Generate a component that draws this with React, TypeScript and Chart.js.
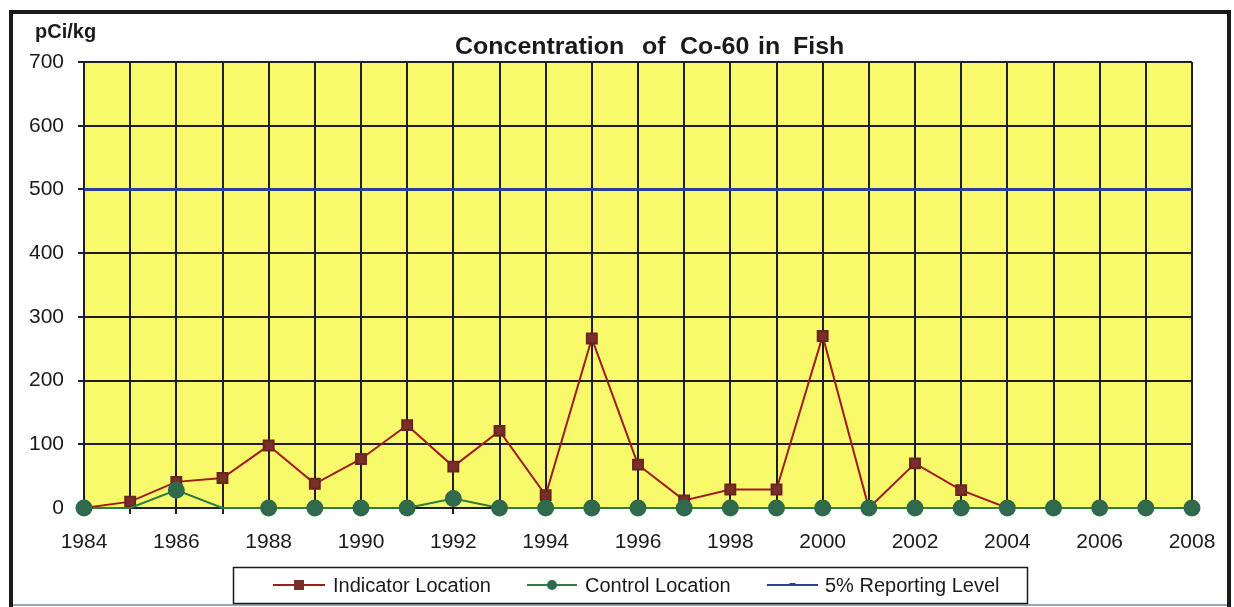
import React, { useEffect, useRef } from "react";
import { Chart, registerables } from "chart.js";

Chart.register(...registerables);

const years = [
  "1984", "1985", "1986", "1987", "1988", "1989", "1990", "1991", "1992", "1993",
  "1994", "1995", "1996", "1997", "1998", "1999", "2000", "2001", "2002", "2003",
  "2004", "2005", "2006", "2007", "2008",
];
const indicatorValues = [
  0, 10, 41, 47, 98, 38, 77, 130, 65, 121, 20, 266, 68, 12, 29, 29, 270, 0, 70, 28,
  0, 0, 0, null, null,
];
const controlValues = [
  0, 0, 28, 0, 0, 0, 0, 0, 15, 0, 0, 0, 0, 0, 0, 0, 0, 0, 0, 0, 0, 0, 0, 0, 0,
];
const controlMarkerShown = [
  1, 0, 1, 0, 1, 1, 1, 1, 1, 1, 1, 1, 1, 1, 1, 1, 1, 1, 1, 1, 1, 1, 1, 1, 1,
];
const reportingLevel = years.map(() => 500);
const yTicks = [0, 100, 200, 300, 400, 500, 600, 700];

const titleWords = ["Concentration", "of", "Co-60", "in", "Fish"];
const unitText = "pCi/kg";
const legendItems = ["Indicator Location", "Control Location", "5% Reporting Level"];

const RED = "#a01c1c";
const RED_MARK = "#7a2e2a";
const GREEN = "#2f7a45";
const GREEN_MARK = "#2f6a4c";
const BLUE = "#2a3f9a";
const GRID = "#1e1e2a";
const FONT = "'Liberation Sans', Arial, sans-serif";

const decorPlugin = {
  id: "decor",
  beforeDraw(chart: any) {
    const { ctx, chartArea } = chart;
    ctx.save();
    ctx.fillStyle = "#ffffff";
    ctx.fillRect(0, 0, chart.width, chart.height);
    ctx.fillStyle = "#f9f96c";
    ctx.fillRect(chartArea.left, chartArea.top, chartArea.right - chartArea.left, chartArea.bottom - chartArea.top);
    ctx.restore();
  },
  afterDraw(chart: any) {
    const { ctx } = chart;
    ctx.save();
    // outer frame
    ctx.strokeStyle = "#1a1a1a";
    ctx.lineWidth = 4;
    ctx.beginPath();
    ctx.moveTo(11, 607);
    ctx.lineTo(11, 12);
    ctx.lineTo(1229, 12);
    ctx.lineTo(1229, 607);
    ctx.stroke();
    ctx.strokeStyle = "#9aa6b4";
    ctx.lineWidth = 2;
    ctx.beginPath();
    ctx.moveTo(13, 605);
    ctx.lineTo(1227, 605);
    ctx.stroke();

    // unit label
    ctx.fillStyle = "#1a1a1a";
    ctx.font = `bold 20px ${FONT}`;
    ctx.textAlign = "left";
    ctx.textBaseline = "alphabetic";
    ctx.fillText(unitText, 35, 38);

    // title (word positions follow the reference's spacing)
    ctx.font = `bold 24px ${FONT}`;
    const wordX = [455, 642, 680, 758, 793];
    titleWords.forEach((w, i) => {
      ctx.save();
      ctx.translate(wordX[i], 54);
      ctx.scale(1.04, 1);
      ctx.fillText(w, 0, 0);
      ctx.restore();
    });

    // legend box
    ctx.strokeStyle = "#1a1a1a";
    ctx.lineWidth = 1.5;
    ctx.strokeRect(233.5, 567.5, 794, 36);
    const ly = 585;
    const samples = [
      { x: 273, w: 52, tx: 333, color: RED, mark: "square" },
      { x: 527, w: 50, tx: 585, color: GREEN, mark: "circle" },
      { x: 767, w: 51, tx: 825, color: BLUE, mark: "dash" },
    ];
    ctx.font = `20px ${FONT}`;
    ctx.textBaseline = "middle";
    samples.forEach((s, i) => {
      ctx.strokeStyle = s.color;
      ctx.lineWidth = 2;
      ctx.beginPath();
      ctx.moveTo(s.x, ly);
      ctx.lineTo(s.x + s.w, ly);
      ctx.stroke();
      const cx = s.x + s.w / 2;
      if (s.mark === "square") {
        ctx.fillStyle = RED_MARK;
        ctx.fillRect(cx - 5, ly - 5, 10, 10);
      } else if (s.mark === "circle") {
        ctx.fillStyle = GREEN_MARK;
        ctx.beginPath();
        ctx.arc(cx, ly, 5, 0, Math.PI * 2);
        ctx.fill();
      } else {
        ctx.fillStyle = BLUE;
        ctx.fillRect(cx - 3, ly - 2, 6, 3);
      }
      ctx.fillStyle = "#1a1a1a";
      ctx.fillText(legendItems[i], s.tx, ly + 1);
    });
    ctx.restore();
  },
};

export default function App() {
  const ref = useRef<HTMLCanvasElement | null>(null);
  useEffect(() => {
    if (!ref.current) return;
    const chart = new Chart(ref.current, {
      type: "line",
      data: {
        labels: years,
        datasets: [
          {
            label: legendItems[1],
            data: controlValues,
            borderColor: GREEN,
            backgroundColor: GREEN_MARK,
            borderWidth: 2,
            pointStyle: "circle",
            pointRadius: controlMarkerShown.map((v) => (v ? 7.5 : 0)),
            pointBorderColor: GREEN_MARK,
            pointBackgroundColor: GREEN_MARK,
            tension: 0,
            clip: false,
            order: 0,
          },
          {
            label: legendItems[0],
            data: indicatorValues,
            borderColor: RED,
            backgroundColor: RED_MARK,
            borderWidth: 2,
            pointStyle: "rect",
            pointRadius: 7,
            pointBorderColor: "#6a2420",
            pointBackgroundColor: RED_MARK,
            tension: 0,
            spanGaps: false,
            clip: false,
            order: 1,
          },
          {
            label: legendItems[2],
            data: reportingLevel,
            borderColor: BLUE,
            borderWidth: 3,
            pointRadius: 0,
            tension: 0,
            clip: false,
            order: 2,
          },
        ],
      },
      options: {
        animation: false,
        responsive: false,
        devicePixelRatio: 1,
        layout: { padding: { left: 20, right: 42, top: 62, bottom: 0 } },
        plugins: {
          legend: { display: false },
          title: { display: false },
          tooltip: { enabled: false },
        },
        scales: {
          x: {
            type: "category",
            offset: false,
            grid: { color: GRID, lineWidth: 2, tickLength: 6, drawOnChartArea: true },
            border: { color: GRID, width: 2 },
            ticks: {
              autoSkip: false,
              maxRotation: 0,
              minRotation: 0,
              padding: 16,
              color: "#1a1a1a",
              font: { family: FONT, size: 21 },
              callback: (_v: any, i: number) => (i % 2 === 0 ? years[i] : ""),
            },
            afterFit: (scale: any) => {
              scale.height = 99;
            },
          },
          y: {
            min: 0,
            max: 700,
            afterBuildTicks: (scale: any) => {
              scale.ticks = yTicks.map((v) => ({ value: v }));
            },
            grid: { color: GRID, lineWidth: 2, tickLength: 6 },
            border: { color: GRID, width: 2 },
            ticks: {
              padding: 14,
              color: "#1a1a1a",
              font: { family: FONT, size: 21 },
            },
            afterFit: (scale: any) => {
              scale.width = 64;
            },
          },
        },
      },
      plugins: [decorPlugin],
    });
    return () => chart.destroy();
  }, []);
  return (
    <div style={{ position: "absolute", left: 0, top: 0, width: 1234, height: 607 }}>
      <canvas ref={ref} width={1234} height={607} style={{ width: 1234, height: 607 }} />
    </div>
  );
}
